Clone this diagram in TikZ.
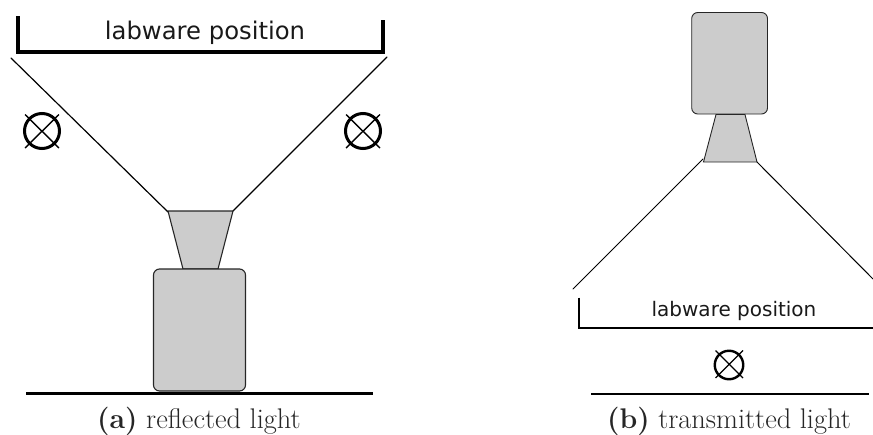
\documentclass[tikz,border=0pt]{standalone}
\usepackage{fontspec}
\newfontfamily\labfont{DejaVu Sans}
\tikzset{
  thick line/.style={line width=3.2pt, black},
  thin thick line/.style={line width=2.4pt, black},
  ray/.style={line width=1.2pt, black, line cap=round},
  body/.style={draw=black!85, line width=1.1pt, fill=black!20},
  lamp/.style={circle, draw=black, line width=3pt, inner sep=0pt, minimum size=#1},
  lamp cross/.style={line width=1.4pt, black},
  lab/.style={inner sep=0pt, text=black!90},
  captext/.style={inner sep=0pt, anchor=base, text=black!85}
}
\begin{document}
\begin{tikzpicture}[x=1pt,y=-1pt]
\useasboundingbox (0,0) rectangle (873,434);
% (a) reflected light
\draw[thick line] (18,16) -- (18,52) -- (383,52) -- (383,20);
\node[lab, font=\labfont\fontsize{24.3}{26}\selectfont] (la) at (205,33) {labware position};
\coordinate (a1) at (11,58); \coordinate (a2) at (168,212);
\coordinate (a3) at (387,57); \coordinate (a4) at (233,211);
\draw[ray] (a1) -- (a2);
\draw[ray] (a3) -- (a4);
\draw[body] (168,211) -- (233,211) -- (218,269) -- (183,269) -- cycle;
\draw[body, rounded corners=6pt] (153.5,269) rectangle (245.5,391);
\draw[thick line] (26,393.5) -- (373,393.5);
\node[lamp=35pt] (l1) at (42,131) {};
\draw[lamp cross] (25,114.5) -- (59,148) (59,114.5) -- (25,148);
\node[lamp=35pt] (l2) at (363,131) {};
\draw[lamp cross] (346,114.5) -- (380,148) (380,114.5) -- (346,148);
\node[captext, font=\fontsize{28.4}{30}\selectfont] (ca) at (199,428) {\textbf{(a)} reflected light};
% (b) transmitted light
\draw[body, line width=0.9pt, rounded corners=6pt] (691.7,12.5) rectangle (767.5,114);
\draw[body, line width=0.9pt] (716,114.5) -- (745,114.5) -- (757,162) -- (703.5,162) -- cycle;
\coordinate (b1) at (573,289); \coordinate (b2) at (703,159);
\coordinate (b3) at (873,279); \coordinate (b4) at (757,162);
\draw[ray, line width=1pt] (b1) -- (b2);
\draw[ray, line width=1pt] (b3) -- (b4);
\draw[thin thick line] (579,297.5) -- (579,328) -- (873,328);
\node[lab, font=\labfont\fontsize{20}{22}\selectfont] (lb) at (734,311) {labware position};
\node[lamp=28.5pt, line width=2.4pt] (l3) at (729,365) {};
\draw[lamp cross, line width=1.1pt] (715.5,350.5) -- (743,378) (743,350.5) -- (715.5,378);
\draw[thin thick line] (591,394) -- (869,394);
\node[captext, font=\fontsize{28.4}{30}\selectfont] (cb) at (729,428) {\textbf{(b)} transmitted light};
\end{tikzpicture}
\end{document}
